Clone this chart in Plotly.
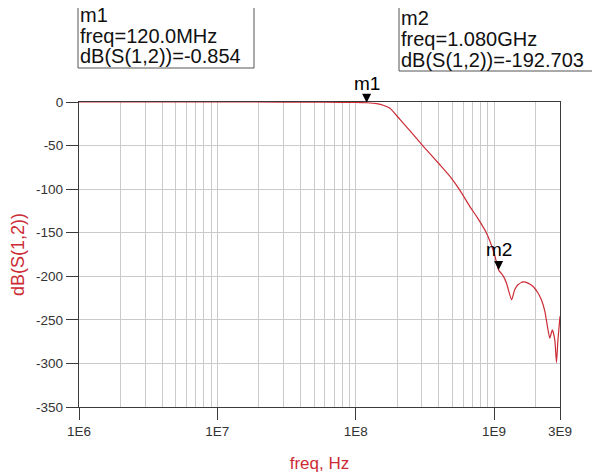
import math
import plotly.graph_objects as go

# ---- data ----
freq_hz = [1e6, 1e7, 3e7, 6e7, 1.0e8, 1.2e8, 1.42e8, 1.6e8, 1.77e8, 2.09e8, 2.5e8,
           3.05e8, 4.06e8, 4.9e8, 5.6e8, 6.7e8, 7.6e8, 8.8e8, 1.0e9, 1.08e9,
           1.12e9, 1.165e9, 1.23e9, 1.34e9, 1.41e9, 1.49e9, 1.62e9, 1.76e9,
           1.91e9, 2.08e9, 2.2e9, 2.33e9, 2.39e9, 2.53e9, 2.64e9, 2.75e9,
           2.83e9, 2.9e9, 3.0e9]
s12_db = [0.0, 0.0, -0.05, -0.2, -0.55, -0.854, -1.8, -4.0, -7.2, -20.0, -34.0,
          -50.0, -72.0, -87.0, -100.0, -120.0, -133.0, -150.0, -173.0, -192.703,
          -196.0, -199.5, -207.8, -227.0, -215.5, -209.7, -206.5, -207.8,
          -211.5, -219.2, -227.0, -240.0, -250.0, -271.0, -261.5, -272.6,
          -299.0, -272.6, -246.0]

x_tick_vals = [1e6, 1e7, 1e8, 1e9, 3e9]
x_tick_text = ["1E6", "1E7", "1E8", "1E9", "3E9"]
y_tick_vals = [0, -50, -100, -150, -200, -250, -300, -350]
y_tick_text = ["0", "-50", "-100", "-150", "-200", "-250", "-300", "-350"]

markers = [
    {"name": "m1", "freq": 120.0e6, "freq_txt": "120.0MHz", "db": -0.854},
    {"name": "m2", "freq": 1.080e9, "freq_txt": "1.080GHz", "db": -192.703},
]

# ---- layout geometry (page has an 8px body margin; compensate) ----
OFF = 8
W, H = 600 - OFF, 474 - OFF
ML, MR, MT, MB = 71, 40, 94, 67
PW, PH = W - ML - MR, H - MT - MB


def px(x):
    return (x - OFF - ML) / PW


def py(y):
    return (H - MB - (y - OFF)) / PH


minor_vals = [m * 10 ** e for e in range(6, 10) for m in range(2, 10) if m * 10 ** e < 3e9]

RED = "#cc2b36"
AX = "#3a3a3a"
GRID = "#cacaca"
FONT = "Liberation Sans, Arial, sans-serif"

fig = go.Figure()
fig.add_trace(go.Scatter(x=freq_hz, y=s12_db, mode="lines",
                         line=dict(color=RED, width=1.2, shape="spline", smoothing=0.5),
                         showlegend=False))

fig.update_layout(
    width=W, height=H,
    margin=dict(l=ML, r=MR, t=MT, b=MB, autoexpand=False),
    paper_bgcolor="white", plot_bgcolor="white",
    font=dict(family=FONT, size=13.5, color="#333333"),
    xaxis=dict(
        type="log", range=[6, math.log10(3e9)], automargin=False,
        tickmode="array", tickvals=x_tick_vals, ticktext=x_tick_text,
        ticks="outside", ticklen=12, tickwidth=1, tickcolor=AX,
        showline=True, linecolor=AX, linewidth=1.3, mirror=True,
        showgrid=True, gridcolor=GRID, gridwidth=1,
        minor=dict(tickmode="array", tickvals=minor_vals, showgrid=True,
                   gridcolor=GRID, gridwidth=1, ticks=""),
        zeroline=False, layer="below traces",
        title=dict(text="freq, Hz", font=dict(size=17, color=RED), standoff=18),
    ),
    yaxis=dict(
        range=[-350, 0], automargin=False,
        tickmode="array", tickvals=y_tick_vals, ticktext=y_tick_text,
        ticks="outside", ticklen=12, tickwidth=1, tickcolor=AX,
        showline=True, linecolor=AX, linewidth=1.3, mirror=True,
        showgrid=True, gridcolor=GRID, gridwidth=1,
        zeroline=False, layer="below traces",
        title=dict(text="dB(S(1,2))", font=dict(size=18, color=RED), standoff=14),
    ),
)

# marker arrows with labels
for m, ay in zip(markers, [-19, -20]):
    fig.add_annotation(x=math.log10(m["freq"]), y=m["db"], xref="x", yref="y",
                       text=m["name"], showarrow=True, ax=0, ay=ay,
                       arrowhead=2, arrowsize=1.8, arrowwidth=1, arrowcolor="black",
                       standoff=0, font=dict(size=19, color="black", family=FONT))

# marker readout boxes (page pixel coordinates)
boxes = [
    {"m": markers[0], "x0": 78, "y0": -2, "x1": 254, "y1": 68, "tx": 79, "ty": [15, 36, 56]},
    {"m": markers[1], "x0": 399, "y0": 6, "x1": 598, "y1": 71, "tx": 400, "ty": [18, 39, 60]},
]
for b in boxes:
    m = b["m"]
    fig.add_shape(type="rect", xref="paper", yref="paper",
                  x0=px(b["x0"]), x1=px(b["x1"]), y0=py(b["y1"]), y1=py(b["y0"]),
                  line=dict(color="#555555", width=1), fillcolor="rgba(0,0,0,0)")
    lines = [m["name"], "freq=" + m["freq_txt"], "dB(S(1,2))=" + f"{m['db']:.3f}"]
    for t, yy in zip(lines, b["ty"]):
        fig.add_annotation(x=px(b["tx"]), y=py(yy), xref="paper", yref="paper",
                           text=t, showarrow=False, xanchor="left", yanchor="middle",
                           borderpad=0,
                           font=dict(size=20, color="#111111", family=FONT))

fig.write_html("out.html")
